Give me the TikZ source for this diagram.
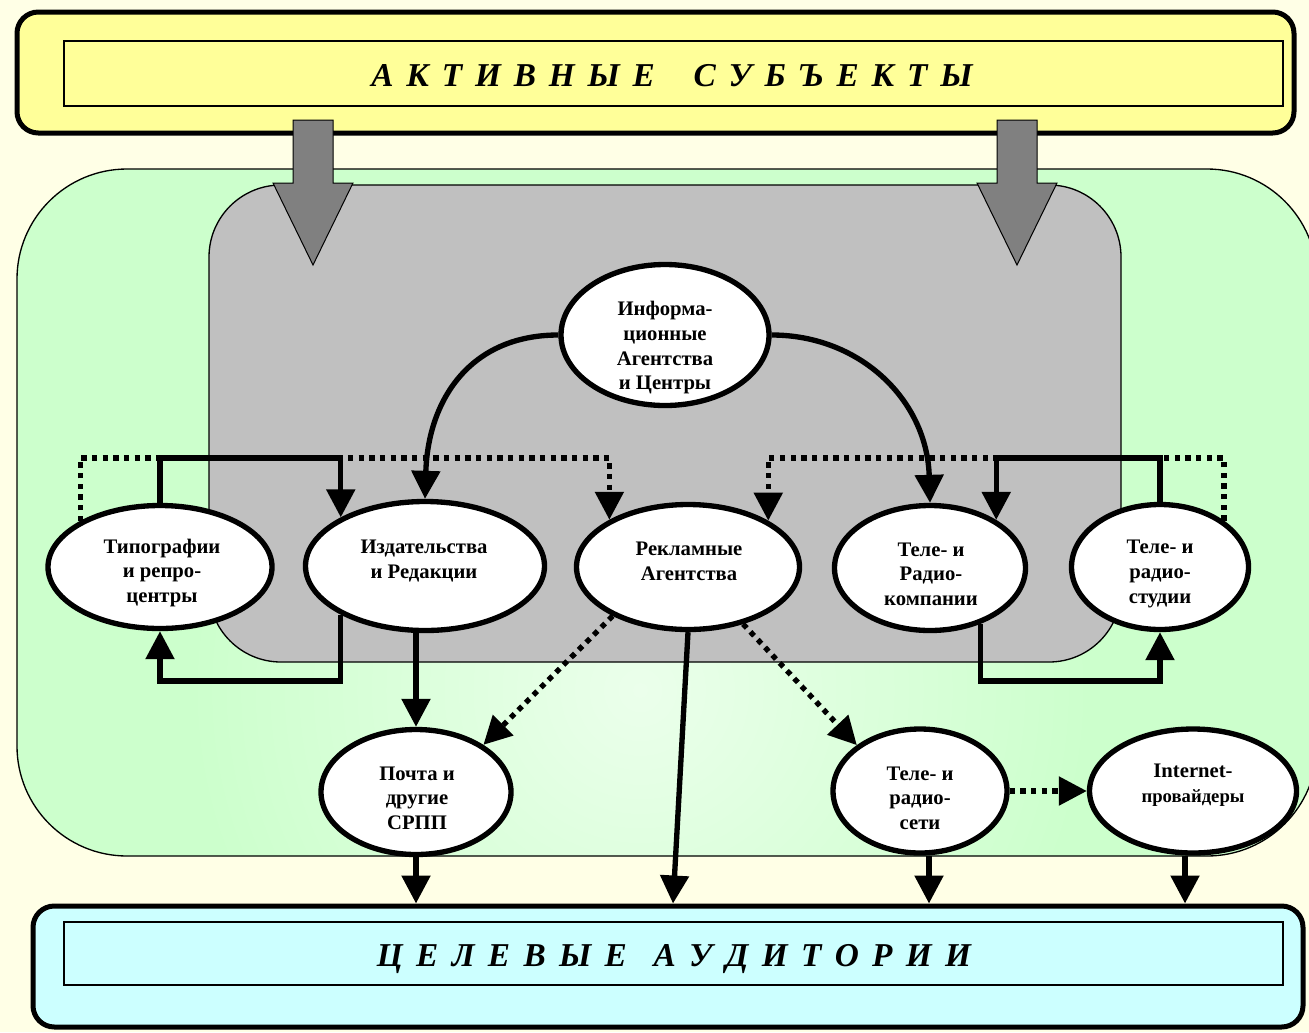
\documentclass[tikz,border=0pt]{standalone}
\usepackage{fontspec}
\setmainfont{Liberation Serif}
\usetikzlibrary{shapes.geometric,arrows.meta,calc}
\definecolor{bgc}{HTML}{FFFFE6}
\definecolor{ylw}{HTML}{FFFF99}
\definecolor{grn}{HTML}{CCFFCC}
\definecolor{grnl}{HTML}{EBFFEB}
\definecolor{gry}{HTML}{C0C0C0}
\definecolor{dgry}{HTML}{808080}
\definecolor{cyn}{HTML}{CCFFFF}
\newcommand{\ttlfont}{\fontsize{25}{30}\selectfont\bfseries\itshape}
\newcommand{\wsp}[1]{\spaceskip=#1\relax}
\begin{document}
\begin{tikzpicture}[x=0.75pt,y=-0.75pt,
  ell/.style={ellipse, draw, fill=white, line width=4pt, inner sep=0pt},
  solidarr/.style={line width=4pt, -{Triangle[length=21pt,width=21pt]}},
  dotarr/.style={line width=4pt, dash pattern=on 4pt off 4pt, -{Triangle[length=21pt,width=21pt]}},
  lab/.style={font=\fontsize{15.5}{18.5}\selectfont\bfseries, align=center, inner sep=0pt},
  ttl/.style={font=\ttlfont, inner sep=0pt},
  bigbox/.style={draw, line width=3.75pt, rounded corners=16pt, inner sep=0pt},
  thinbox/.style={draw, line width=0.9pt},
  blockarr/.style={draw, line width=0.75pt, fill=dgry, line join=miter}
]
\clip (0,0) rectangle (1309,1032);
\fill[bgc] (0,0) rectangle (1309,1032);

% top box
\node[bigbox, fill=ylw, minimum width=957.75pt, minimum height=90.75pt] (act) at (655.5,72.5) {};
\draw[thinbox] (64,41) rectangle (1283,106);
\node[ttl] (tact) at (672,76) {\wsp{9.6pt}А К Т И В Н Ы Е\hspace{29pt}С У Б Ъ Е К Т Ы};

% green area
\fill[grn, rounded corners=82.5pt] (17,169) rectangle (1317,856);
\begin{scope}
  \clip[rounded corners=82.5pt] (17,169) rectangle (1317,856);
  \shade[inner color=grnl, outer color=grn] (640,690) circle (450);
\end{scope}
\draw[line width=1pt, rounded corners=82.5pt] (17,169) rectangle (1317,856);

% gray area
\draw[line width=1pt, fill=gry, rounded corners=54pt] (209,185) rectangle (1121,662);

% block arrows
\draw[blockarr] (293,120) -- (333,120) -- (333,183) -- (353,183) -- (313,265) -- (273,183) -- (293,183) -- cycle;
\draw[blockarr] (997,120) -- (1037,120) -- (1037,183) -- (1057,183) -- (1017,265) -- (977,183) -- (997,183) -- cycle;

% bottom box
\node[bigbox, fill=cyn, minimum width=952.5pt, minimum height=90.75pt] (aud) at (668,966.5) {};
\draw[thinbox] (64,922) rectangle (1283,985);
\node[ttl] (taud) at (674,959) {\wsp{10pt}Ц Е Л Е В Ы Е\hspace{20pt}А У Д И Т О Р И И};

% ellipses
\node[ell, minimum width=156pt, minimum height=105.75pt] (info) at (665,335) {};
\node[ell, minimum width=168pt, minimum height=92.25pt] (typ) at (160,567) {};
\node[ell, minimum width=179.25pt, minimum height=96.75pt] (izd) at (425,566) {};
\node[ell, minimum width=167.25pt, minimum height=93.75pt] (rek) at (688,567) {};
\node[ell, minimum width=143.25pt, minimum height=93.75pt] (tvk) at (930,568) {};
\node[ell, minimum width=132.75pt, minimum height=93.75pt] (tvs) at (1160,567) {};
\node[ell, minimum width=142.5pt, minimum height=93.75pt] (post) at (416,792) {};
\node[ell, minimum width=130.5pt, minimum height=93pt] (net) at (920,791) {};
\node[ell, minimum width=155.25pt, minimum height=93pt] (inet) at (1193,791) {};

\coordinate (lvl) at (0,458);
\coordinate (lvlb) at (0,681);

% dotted connectors
\draw[dotarr] (typ.150) -- (typ.150 |- lvl) -| (rek.149);
\draw[dotarr] (tvs.36) -- (tvs.36 |- lvl) -| (rek.30);
\draw[dotarr] (rek.213) -- (post.35);
\draw[dotarr] (rek.-46) -- (net.144);
\draw[dotarr] (net.east) -- (inet.west);

% solid connectors
\draw[solidarr] (typ.north) -- (typ.north |- lvl) -| (izd.150);
\draw[solidarr] (izd.210) -- (izd.210 |- lvlb) -| (typ.south);
\draw[solidarr] (tvs.north) -- (tvs.north |- lvl) -| (tvk.36);
\draw[solidarr] (tvk.-48) -- (tvk.-48 |- lvlb) -| (tvs.south);
\draw[solidarr] (info.west) .. controls (470,335) and (428,400) .. (izd.north);
\draw[solidarr] (info.east) .. controls (860,335) and (927,400) .. (tvk.north);
\draw[solidarr] (post.north |- izd.south) -- (post.north);
\draw[solidarr] (rek.south) -- ([xshift=3.75pt]aud.north);
\draw[solidarr] (post.south) -- (post.south |- aud.north);
\draw[solidarr] ([xshift=6.75pt]net.south) -- ([xshift=6.75pt]net.south |- aud.north);
\draw[solidarr] ([xshift=-6pt]inet.south) -- ([xshift=-6pt]inet.south |- aud.north);

% labels
\node[lab] (tinfo) at (665,348) {Информа-\\ционные\\Агентства\\и Центры};
\node[lab] (ttyp) at (162,573) {Типографии\\и репро-\\центры};
\node[lab] (tizd) at (424,561) {Издательства\\и Редакции};
\node[lab] (trek) at (689,561) {Рекламные\\Агентства};
\node[lab] (ttvk) at (931,574) {Теле- и\\Радио-\\компании};
\node[lab] (ttvs) at (1160,574) {Теле- и\\радио-\\студии};
\node[lab] (tpost) at (417,798) {Почта и\\другие\\СРПП};
\node[lab] (tnet) at (920,798) {Теле- и\\радио-\\сети};
\node[lab] (tinet) at (1193,785) {Internet-\\{\fontsize{14}{17}\selectfont провайдеры}};
\end{tikzpicture}
\end{document}
